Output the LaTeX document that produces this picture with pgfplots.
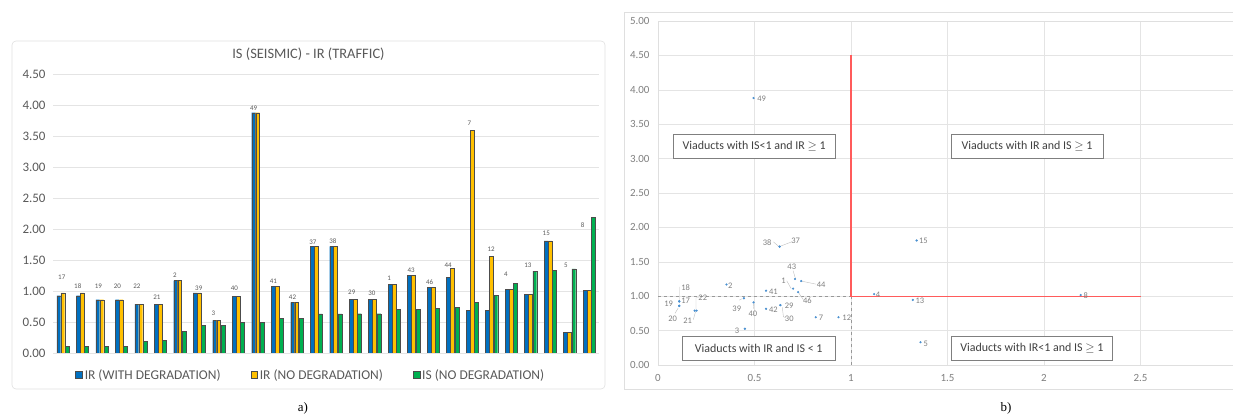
\documentclass[border=0pt]{standalone}
\usepackage{pgfplots}
\pgfplotsset{compat=1.18}
\usepackage{pgfplotstable}
\usepackage{fontspec}
\setmainfont{Carlito}
\newfontfamily\timesf{Liberation Serif}
\definecolor{barblue}{HTML}{0070C0}
\definecolor{baryel}{HTML}{FFC000}
\definecolor{bargreen}{HTML}{00B050}
\definecolor{txtgray}{HTML}{595959}
\definecolor{ltgray}{HTML}{7F7F7F}
\definecolor{gridc}{HTML}{E4E4E4}
\definecolor{scblue}{HTML}{4A90D0}
\definecolor{redl}{HTML}{FF5B5B}

\pgfplotstableread{
i lab b y g ly lx
0 17 0.925 0.97 0.11 1.22 -0.05
1 18 0.925 0.97 0.11 1.08 0.77
2 19 0.86 0.86 0.11 1.08 1.83
3 20 0.86 0.86 0.11 1.08 2.80
4 22 0.79 0.79 0.19 1.08 3.80
5 21 0.79 0.79 0.20 0.90 4.83
6 2 1.17 1.17 0.355 1.26 5.76
7 39 0.97 0.97 0.445 1.05 6.98
8 3 0.527 0.527 0.45 0.645 7.73
9 40 0.91 0.91 0.495 1.05 8.81
10 49 3.88 3.88 0.495 3.95 9.79
11 41 1.08 1.08 0.56 1.155 10.81
12 42 0.817 0.817 0.56 0.90 11.79
13 37 1.72 1.72 0.63 1.79 12.83
14 38 1.72 1.72 0.63 1.81 13.86
15 29 0.87 0.87 0.634 0.98 14.83
16 30 0.87 0.87 0.634 0.957 15.86
17 1 1.11 1.11 0.70 1.20 16.75
18 43 1.25 1.25 0.71 1.33 17.88
19 46 1.06 1.06 0.726 1.15 18.82
20 44 1.22 1.366 0.742 1.42 19.78
21 7 0.694 3.60 0.817 3.71 20.86
22 12 0.694 1.56 0.935 1.68 21.98
23 4 1.03 1.03 1.12 1.27 22.74
24 13 0.946 0.946 1.32 1.41 23.87
25 15 1.81 1.81 1.34 1.935 24.81
26 5 0.33 0.33 1.36 1.42 25.82
27 8 1.016 1.016 2.19 2.06 26.67
}\bardata

\pgfplotstableread{
lab is ir
17 0.11 0.925
18 0.11 0.925
19 0.11 0.86
20 0.11 0.86
22 0.19 0.79
21 0.20 0.79
2 0.355 1.17
39 0.445 0.97
3 0.45 0.527
40 0.495 0.91
49 0.495 3.88
41 0.56 1.08
42 0.56 0.817
37 0.63 1.72
38 0.63 1.72
29 0.634 0.87
30 0.634 0.87
1 0.70 1.11
43 0.71 1.25
46 0.726 1.06
44 0.742 1.22
7 0.817 0.694
12 0.935 0.694
4 1.12 1.03
13 1.32 0.946
15 1.34 1.81
5 1.36 0.33
8 2.19 1.016
}\scdata

\pgfplotstableread{
lab lx ly
49 0.537 3.87
15 1.375 1.80
13 1.357 0.94
5 1.387 0.315
8 2.216 1.006
4 1.14 1.02
12 0.978 0.68
7 0.845 0.68
38 0.566 1.78
37 0.713 1.80
43 0.693 1.43
44 0.845 1.165
1 0.65 1.22
46 0.774 0.93
41 0.598 1.064
2 0.375 1.157
18 0.143 1.128
17 0.143 0.93
19 0.055 0.895
20 0.076 0.672
21 0.154 0.643
22 0.232 0.977
39 0.408 0.82
40 0.492 0.74
42 0.598 0.803
29 0.679 0.856
30 0.68 0.672
3 0.41 0.50
}\sclabels

\pgfplotstableread{
x y
0.598 1.79
0.627 1.72
0.693 1.79
nan nan
0.70 1.37
0.713 1.25
nan nan
0.742 1.22
0.819 1.175
nan nan
0.667 1.224
0.69 1.11
nan nan
0.726 1.06
0.753 0.95
nan nan
0.11 1.136
0.11 0.94
nan nan
0.088 0.75
0.105 0.83
nan nan
0.183 0.66
0.195 0.78
nan nan
0.197 0.80
0.197 0.977
0.214 0.977
nan nan
0.421 0.943
0.435 0.963
nan nan
0.496 0.89
0.494 0.82
nan nan
0.644 0.836
0.65 0.70
0.662 0.69
}\leaders

\pgfplotsset{
  sqleg/.style={legend image code/.code={\draw[##1,line width=0.5pt] (0bp,-3.4bp) rectangle (6.8bp,3.4bp);}},
}

\begin{document}
\begin{tikzpicture}
% card of panel a
\draw[gray!25, rounded corners=4bp, line width=0.6pt] (12bp,28bp) rectangle (605bp,376bp);
\node[font=\fontsize{14.5}{16}\selectfont, text=txtgray] at (308.5bp,363bp) {IS (SEISMIC) - IR (TRAFFIC)};
\node[font=\timesf\fontsize{13}{15}\selectfont] at (303bp,9bp) {a)};
% frame of panel b
\draw[gray!25, line width=0.6pt] (624bp,28bp) rectangle (1245bp,405bp);
\node[font=\timesf\fontsize{13}{15}\selectfont] at (1006bp,9bp) {b)};

\begin{axis}[
  at={(53bp,64bp)}, anchor=south west,
  scale only axis, width=545.7bp, height=278.7bp,
  xmin=-0.5, xmax=27.5, ymin=0, ymax=4.5,
  xtick=\empty,
  ytick={0,0.5,...,4.5},
  ymajorgrids, grid style={gridc, line width=0.5pt},
  axis line style={draw=none},
  ytick style={draw=none},
  yticklabel style={font=\fontsize{13}{15}\selectfont, text=txtgray, xshift=-4bp},
  /pgf/number format/assume math mode=true,
  yticklabel={\pgfmathprintnumber[fixed,fixed zerofill,precision=2]{\tick}},
  legend style={at={(0.5,-0.079)}, anchor=center, xshift=-15bp, draw=none, fill=none,
    font=\fontsize{13.5}{15}\selectfont, text=txtgray, legend columns=3,
    /tikz/every even column/.append style={column sep=28bp}},
  legend cell align=left,
]
\addplot[gray!55, line width=0.6pt, forget plot] coordinates {(-0.5,0) (27.5,0)};
\addplot[ybar, bar width=0.2, bar shift=-0.205, fill=barblue, draw=black!70, line width=0.3pt, sqleg] table[x=i,y=b]{\bardata};
\addplot[ybar, bar width=0.2, bar shift=0, fill=baryel, draw=black!70, line width=0.3pt, sqleg] table[x=i,y=y]{\bardata};
\addplot[ybar, bar width=0.2, bar shift=0.22, fill=bargreen, draw=black!70, line width=0.3pt, sqleg] table[x=i,y=g]{\bardata};
\addplot[draw=none, mark=none, forget plot, nodes near coords, point meta=explicit symbolic,
  nodes near coords style={font=\fontsize{7}{8}\selectfont, text=txtgray, anchor=center, inner sep=0pt}]
  table[x=lx,y=ly,meta=lab]{\bardata};
\legend{IR (WITH DEGRADATION), IR (NO DEGRADATION), IS (NO DEGRADATION)}
\end{axis}

\begin{axis}[
  at={(658bp,52bp)}, anchor=south west,
  scale only axis, width=579bp, height=344bp,
  xmin=0, xmax=3, ymin=0, ymax=5,
  xtick={0,0.5,...,3}, ytick={0,0.5,...,5},
  xticklabels={0,0.5,1,1.5,2,2.5,{}},
  grid=major, grid style={gridc, line width=0.4pt},
  axis line style={gray!25},
  tick style={draw=none},
  /pgf/number format/assume math mode=true,
  yticklabel={\pgfmathprintnumber[fixed,fixed zerofill,precision=2]{\tick}},
  yticklabel style={font=\fontsize{11}{13}\selectfont, text=ltgray, xshift=-5bp},
  xticklabel style={font=\fontsize{11}{13}\selectfont, text=ltgray, yshift=-6bp},
]
\addplot[ltgray!80, dashed, line width=0.6pt] coordinates {(0,1) (1,1)};
\addplot[ltgray!80, dashed, line width=0.6pt] coordinates {(1,0) (1,1)};
\addplot[redl, line width=1.3pt] coordinates {(1,4.5) (1,1) (2.5,1)};
\addplot[gray!50, line width=0.4pt, unbounded coords=jump] table[x=x,y=y]{\leaders};
\addplot[only marks, mark=*, mark size=0.9bp, scblue] table[x=is,y=ir]{\scdata};
\addplot[draw=none, mark=none, nodes near coords, point meta=explicit symbolic,
  nodes near coords style={font=\fontsize{8.5}{10}\selectfont, text=ltgray, anchor=center, inner sep=0pt}]
  table[x=lx,y=ly,meta=lab]{\sclabels};
\tikzset{vbox/.style={draw=ltgray, fill=white, line width=0.6pt, font=\fontsize{12}{14}\selectfont, text=black!75, minimum height=24.5bp, inner xsep=0pt}}
\node[vbox, minimum width=161.7bp] at (axis cs:0.498,3.18) {Viaducts with IS<1 and IR $\geq$ 1};
\node[vbox, minimum width=152.3bp] at (axis cs:1.912,3.18) {Viaducts with IR and IS $\geq$ 1};
\node[vbox, minimum width=152.3bp] at (axis cs:0.522,0.245) {Viaducts with IR and IS < 1};
\node[vbox, minimum width=161.7bp] at (axis cs:1.937,0.245) {Viaducts with IR<1 and IS $\geq$ 1};
\end{axis}
\pgfresetboundingbox
\path[use as bounding box] (0bp,0bp) rectangle (1233bp,417bp);
\end{tikzpicture}
\end{document}
